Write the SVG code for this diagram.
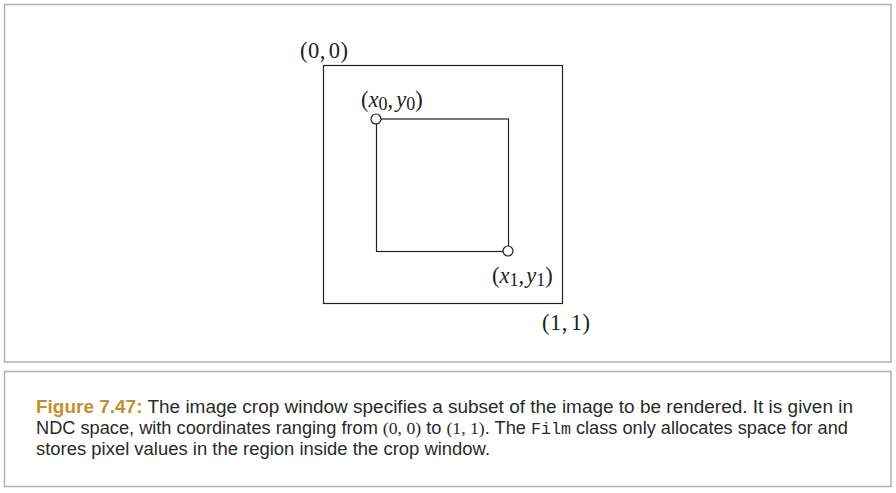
<svg xmlns="http://www.w3.org/2000/svg" width="896" height="493" viewBox="0 0 896 493">
<style>
.panel{fill:#fff;stroke:#b0b0b0;stroke-width:1.5}
.box{fill:none;stroke:#222;stroke-width:1.2}
.pt{fill:#fff;stroke:#222;stroke-width:1.2}
.m{font-family:"Liberation Serif","Times New Roman",serif;font-size:22.5px;fill:#222}
.sub{font-size:18px}
.cap{font-family:"Liberation Sans",Arial,sans-serif;font-size:17.5px;fill:#2a2a2a}
.fig{font-weight:bold;fill:#c0912c}
.mono{font-family:"Liberation Mono","DejaVu Sans Mono",monospace;font-size:16px}
.ms{font-family:"Liberation Serif","Times New Roman",serif;font-size:17px}
</style>
<rect width="896" height="493" fill="#fff"/>
<rect class="panel" x="4.5" y="4.5" width="886.5" height="357.5"/>
<rect class="panel" x="4.5" y="371.5" width="886.5" height="115"/>
<g id="outer">
<rect class="box" x="323.5" y="65.5" width="239" height="238"/>
<text class="m" x="300" y="58" textLength="48">(0,<tspan dx="3">0)</tspan></text>
<text class="m" x="542" y="330" textLength="48">(1,<tspan dx="3">1)</tspan></text>
</g>
<g id="crop">
<rect class="box" x="376.5" y="119" width="132" height="132.5"/>
</g>
<g id="p0">
<circle class="pt" cx="376" cy="119" r="5"/>
<text class="m" x="361" y="107">(<tspan font-style="italic">x</tspan><tspan class="sub" dy="3">0</tspan><tspan dy="-3">,</tspan><tspan font-style="italic" dx="3">y</tspan><tspan class="sub" dy="3">0</tspan><tspan dy="-3">)</tspan></text>
</g>
<g id="p1">
<circle class="pt" cx="508" cy="251" r="5"/>
<text class="m" x="492" y="283">(<tspan font-style="italic">x</tspan><tspan class="sub" dy="3">1</tspan><tspan dy="-3">,</tspan><tspan font-style="italic" dx="2">y</tspan><tspan class="sub" dy="3">1</tspan><tspan dy="-3">)</tspan></text>
</g>
<g id="connectors"></g>
<g id="caption">
<text class="cap" x="36" y="413" textLength="817" lengthAdjust="spacingAndGlyphs"><tspan class="fig">Figure 7.47:</tspan> The image crop window specifies a subset of the image to be rendered. It is given in</text>
<text class="cap" x="36" y="434" textLength="812" lengthAdjust="spacingAndGlyphs">NDC space, with coordinates ranging from <tspan class="ms">(0, 0)</tspan> to <tspan class="ms">(1, 1)</tspan>. The <tspan class="mono">Film</tspan> class only allocates space for and</text>
<text class="cap" x="36" y="455" textLength="454" lengthAdjust="spacingAndGlyphs">stores pixel values in the region inside the crop window.</text>
</g>
</svg>
